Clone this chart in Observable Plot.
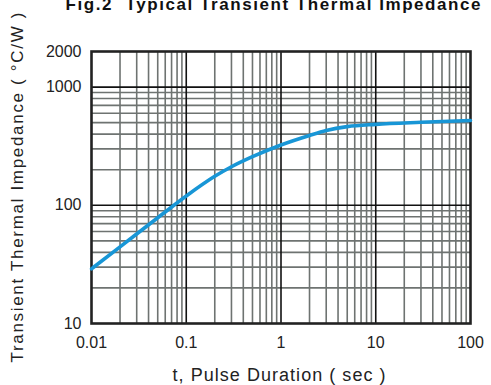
<!DOCTYPE html>
<html>
<head>
<meta charset="utf-8">
<script src="https://cdn.jsdelivr.net/npm/d3@7"></script>
<script src="https://cdn.jsdelivr.net/npm/@observablehq/plot@0.6"></script>
<style>
  html, body { margin: 0; padding: 0; background: #fff; }
  #chart svg { display: block; }
</style>
</head>
<body>
<div id="chart"></div>
<script>
// Data
const tSec = [0.01, 0.02, 0.05, 0.1, 0.2, 0.3, 0.5, 1, 2, 3, 5, 10, 30, 100];
const zth  = [29, 44.5, 78.5, 120, 176, 212, 258, 324, 390, 429, 463, 484, 504, 522];

const xTicks = [0.01, 0.1, 1, 10, 100];
const xTickLabels = ["0.01", "0.1", "1", "10", "100"];
const yTicks = [10, 100, 1000, 2000];
const yTickLabels = ["10", "100", "1000", "2000"];

const titleText = "Fig.2  Typical Transient Thermal Impedance";
const xLabel = "t, Pulse Duration ( sec )";
const yLabel = "Transient Thermal Impedance ( °C/W )";

// grid lines
const minorX = [];
for (const d of [0.01, 0.1, 1, 10]) for (let k = 2; k <= 9; k++) minorX.push(+(d * k).toPrecision(3));
const majorX = [0.1, 1, 10];
const minorY = [];
for (const d of [10, 100]) for (let k = 2; k <= 9; k++) minorY.push(d * k);
const majorY = [100, 1000];

const data = tSec.map((t, i) => ({t, z: zth[i]}));

const chart = Plot.plot({
  width: 491,
  height: 385,
  marginTop: 51,
  marginRight: 21,
  marginBottom: 62,
  marginLeft: 91,
  style: {fontFamily: "'Liberation Sans', Arial, sans-serif", background: "#fff", color: "#222"},
  x: {type: "log", domain: [0.01, 100]},
  y: {type: "log", domain: [10, 2000]},
  marks: [
    Plot.ruleX(minorX, {stroke: "#6e7371", strokeWidth: 1.6}),
    Plot.ruleY(minorY, {stroke: "#6e7371", strokeWidth: 1.6}),
    Plot.ruleX(majorX, {stroke: "#111", strokeWidth: 1.6}),
    Plot.ruleY(majorY, {stroke: "#111", strokeWidth: 1.6}),
    Plot.frame({stroke: "#222", strokeWidth: 2.6}),
    Plot.line(data, {x: "t", y: "z", stroke: "#1896d6", strokeWidth: 3.6, curve: "monotone-x"}),
    Plot.axisX({ticks: xTicks, tickFormat: (d) => xTickLabels[xTicks.indexOf(d)], tickSize: 0, tickPadding: 13, fontSize: 16, label: null}),
    Plot.axisY({ticks: yTicks, tickFormat: (d) => yTickLabels[yTicks.indexOf(d)], tickSize: 0, tickPadding: 10, fontSize: 16, label: null}),
    Plot.text([xLabel], {frameAnchor: "bottom", dy: 57, dx: -2, text: (d) => d, fontSize: 18, fill: "#222"}),
    Plot.text([yLabel], {frameAnchor: "left", textAnchor: "middle", dx: -74, rotate: -90, text: (d) => d, fontSize: 17, fill: "#222"}),
    Plot.text([titleText], {frameAnchor: "top", dy: -54, dx: -8, text: (d) => d, fontSize: 17, fontWeight: "bold", fill: "#111"})
  ]
});

document.getElementById("chart").appendChild(chart);

// widen lettering to match the reference
const fits = {};
fits[xLabel] = 213;
fits[yLabel] = 350;
fits[titleText] = 415;
chart.querySelectorAll("text").forEach((el) => {
  const s = el.textContent;
  if (fits[s]) {
    el.setAttribute("textLength", fits[s]);
    el.setAttribute("lengthAdjust", "spacing");
  }
});
</script>
</body>
</html>
